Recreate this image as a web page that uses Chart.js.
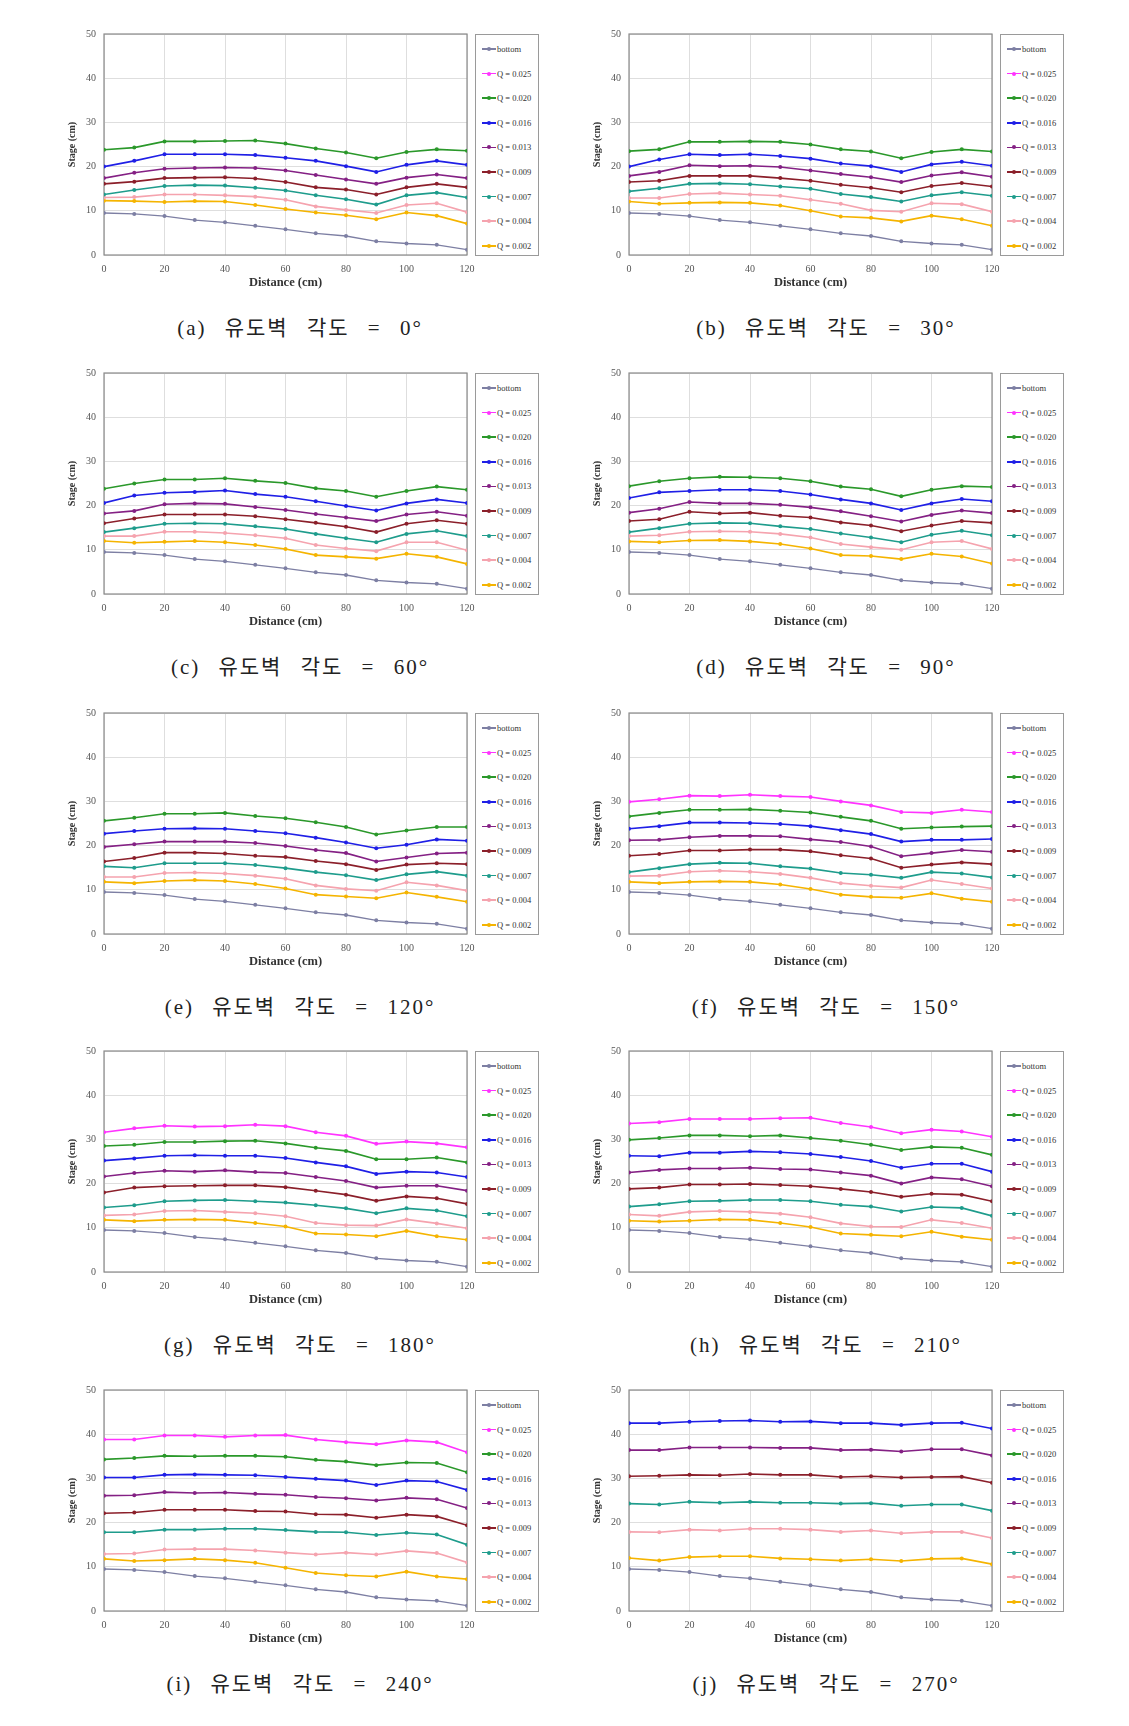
<!DOCTYPE html>
<html><head><meta charset="utf-8">
<script src="https://cdn.jsdelivr.net/npm/chart.js@4.4.1/dist/chart.umd.min.js"></script>
<style>
body{margin:0;background:#fff;width:1129px;height:1726px;position:relative;overflow:hidden}
canvas{position:absolute}
.legend{position:absolute;border:1px solid #9a9a9a;box-sizing:border-box;font-family:"Liberation Serif",serif;font-size:8.5px;color:#333;background:#fff}
.li{position:absolute;left:6px;height:10px;line-height:10px;white-space:nowrap}
.mk{position:absolute;left:0;top:4.3px;width:14px;height:1.5px}
.dot{position:absolute;left:5px;top:-1.3px;width:4px;height:4px;border-radius:50%}
.txt{position:absolute;left:15px;top:0}
.cap{position:absolute;font-family:"Liberation Serif","Noto Sans CJK KR",serif;font-size:21px;line-height:24px;white-space:pre;transform:translateX(-50%);color:#222;letter-spacing:2px;word-spacing:11px}
</style>
</head><body>
<script>
// ---------- data ----------
const distance = [0,10,20,30,40,50,60,70,80,90,100,110,120];
const seriesNames = ['bottom','Q = 0.025','Q = 0.020','Q = 0.016','Q = 0.013','Q = 0.009','Q = 0.007','Q = 0.004','Q = 0.002'];
const panelLetters = ['a','b','c','d','e','f','g','h','i','j'];
const panelAngles = ['0','30','60','90','120','150','180','210','240','270'];
const xTickStep = 20, yTickStep = 10, xMax = 120, yMax = 50;

const bottom = [9.5,9.3,8.8,7.9,7.4,6.6,5.8,4.9,4.3,3.1,2.6,2.3,1.2];

// (a) 0 deg
const q020_a = [23.8,24.3,25.7,25.7,25.8,25.9,25.2,24.1,23.2,21.9,23.3,23.9,23.6];
const q016_a = [20.0,21.3,22.8,22.8,22.8,22.6,22.0,21.3,20.1,18.8,20.4,21.3,20.4];
const q013_a = [17.4,18.6,19.5,19.7,19.8,19.7,19.1,18.1,17.1,16.1,17.5,18.2,17.4];
const q009_a = [16.1,16.6,17.4,17.5,17.6,17.3,16.5,15.3,14.8,13.7,15.3,16.1,15.3];
const q007_a = [13.7,14.7,15.6,15.8,15.7,15.2,14.6,13.5,12.6,11.4,13.5,14.1,13.0];
const q004_a = [13.0,13.1,13.7,13.7,13.5,13.2,12.5,11.0,10.2,9.5,11.3,11.7,9.7];
const q002_a = [12.3,12.2,12.0,12.2,12.1,11.3,10.4,9.6,9.0,8.1,9.6,8.9,7.1];
// (b) 30 deg
const q020_b = [23.5,23.9,25.6,25.6,25.7,25.6,25.0,23.9,23.4,21.9,23.3,23.9,23.4];
const q016_b = [20.0,21.6,22.8,22.6,22.8,22.4,21.8,20.7,20.1,18.8,20.5,21.1,20.2];
const q013_b = [17.9,18.8,20.3,20.1,20.2,19.9,19.1,18.3,17.6,16.5,18.0,18.7,17.7];
const q009_b = [16.5,16.8,17.9,17.9,17.9,17.4,16.8,15.9,15.2,14.2,15.6,16.3,15.5];
const q007_b = [14.4,15.1,16.1,16.2,16.0,15.5,15.0,13.8,13.1,12.1,13.5,14.2,13.4];
const q004_b = [12.9,12.9,13.8,14.0,13.7,13.4,12.5,11.6,10.1,9.8,11.7,11.5,9.8];
const q002_b = [12.1,11.6,11.8,11.9,11.8,11.2,10.0,8.7,8.4,7.6,8.9,8.1,6.6];
// (c) 60 deg
const q020_c = [23.8,25.0,25.9,25.9,26.2,25.6,25.1,23.9,23.3,22.0,23.3,24.3,23.6];
const q016_c = [20.6,22.3,22.9,23.1,23.4,22.6,22.0,21.0,19.9,18.9,20.5,21.4,20.6];
const q013_c = [18.2,18.8,20.3,20.5,20.4,19.7,19.0,18.1,17.3,16.5,18.0,18.6,17.7];
const q009_c = [16.0,17.1,18.0,18.0,18.0,17.6,16.9,16.1,15.2,14.0,15.9,16.7,15.9];
const q007_c = [14.0,14.9,15.9,16.0,15.9,15.3,14.7,13.6,12.6,11.7,13.6,14.3,13.1];
const q004_c = [13.1,13.1,14.1,14.1,13.8,13.3,12.6,11.1,10.3,9.7,11.7,11.7,9.9];
const q002_c = [12.0,11.6,11.8,12.0,11.7,11.1,10.2,8.8,8.4,8.0,9.1,8.4,6.8];
// (d) 90 deg
const q020_d = [24.4,25.5,26.2,26.5,26.4,26.2,25.5,24.3,23.7,22.1,23.6,24.4,24.2];
const q016_d = [21.7,23.0,23.3,23.6,23.6,23.3,22.5,21.4,20.5,19.0,20.5,21.5,21.0];
const q013_d = [18.4,19.3,20.8,20.5,20.5,20.2,19.6,18.7,17.6,16.4,17.9,18.9,18.3];
const q009_d = [16.5,16.9,18.6,18.2,18.4,17.7,17.3,16.2,15.5,14.2,15.5,16.5,16.1];
const q007_d = [14.0,14.9,15.9,16.1,16.0,15.3,14.7,13.7,12.8,11.7,13.4,14.3,13.3];
const q004_d = [13.1,13.3,14.1,14.2,14.1,13.6,12.8,11.3,10.6,10.0,11.7,12.0,10.2];
const q002_d = [11.9,11.7,12.1,12.2,11.9,11.3,10.3,8.8,8.6,7.9,9.1,8.5,6.9];
// (e) 120 deg
const q020_e = [25.6,26.3,27.2,27.2,27.4,26.7,26.2,25.3,24.2,22.5,23.4,24.2,24.2];
const q016_e = [22.7,23.3,23.8,23.9,23.8,23.3,22.8,21.8,20.7,19.4,20.2,21.4,21.1];
const q013_e = [19.7,20.3,20.9,20.9,20.9,20.6,19.9,19.0,18.3,16.4,17.3,18.2,18.4];
const q009_e = [16.4,17.2,18.4,18.4,18.2,17.7,17.4,16.5,15.8,14.5,15.7,16.0,15.8];
const q007_e = [15.3,15.0,16.0,16.0,16.0,15.6,14.9,14.0,13.3,12.2,13.5,14.1,13.2];
const q004_e = [12.9,12.9,13.8,13.9,13.7,13.2,12.5,11.0,10.2,9.8,11.7,11.0,9.8];
const q002_e = [11.8,11.5,12.0,12.2,12.0,11.3,10.3,8.9,8.5,8.1,9.4,8.4,7.3];
// (f) 150 deg
const q025_f = [29.9,30.5,31.3,31.2,31.5,31.2,31.0,30.0,29.1,27.6,27.4,28.1,27.6];
const q020_f = [26.6,27.4,28.1,28.1,28.2,27.9,27.5,26.5,25.6,23.8,24.1,24.3,24.4];
const q016_f = [23.8,24.4,25.2,25.2,25.1,24.9,24.4,23.5,22.6,20.9,21.3,21.3,21.5];
const q013_f = [21.2,21.3,21.9,22.2,22.2,22.1,21.4,20.8,19.8,17.6,18.3,19.0,18.6];
const q009_f = [17.7,18.1,18.9,18.9,19.1,19.1,18.7,17.8,17.1,15.0,15.7,16.2,15.8];
const q007_f = [14.0,14.9,15.8,16.1,16.0,15.3,14.8,13.8,13.4,12.7,14.0,13.7,12.8];
const q004_f = [13.1,13.2,14.1,14.3,14.1,13.6,12.7,11.5,10.9,10.5,12.2,11.3,10.3];
const q002_f = [11.8,11.5,11.8,11.9,11.8,11.2,10.2,8.9,8.4,8.2,9.2,8.0,7.3];
// (g) 180 deg
const q025_g = [31.6,32.5,33.1,32.9,33.0,33.3,33.0,31.6,30.8,29.0,29.5,29.1,28.2];
const q020_g = [28.5,28.8,29.4,29.4,29.6,29.7,29.1,28.1,27.4,25.5,25.5,25.9,24.8];
const q016_g = [25.2,25.7,26.3,26.4,26.3,26.3,25.8,24.8,23.9,22.2,22.7,22.5,21.5];
const q013_g = [21.6,22.4,22.9,22.7,23.0,22.6,22.4,21.5,20.6,19.1,19.5,19.5,18.4];
const q009_g = [18.0,19.1,19.4,19.5,19.6,19.6,19.2,18.4,17.5,16.1,17.1,16.7,15.4];
const q007_g = [14.6,15.1,16.0,16.2,16.3,16.0,15.7,15.1,14.4,13.3,14.4,13.9,12.6];
const q004_g = [12.8,13.0,13.8,13.9,13.6,13.3,12.6,11.1,10.6,10.5,11.9,11.0,9.9];
const q002_g = [11.8,11.5,11.8,11.9,11.8,11.1,10.3,8.7,8.5,8.1,9.3,8.1,7.3];
// (h) 210 deg
const q025_h = [33.6,33.9,34.6,34.6,34.6,34.8,34.9,33.7,32.8,31.4,32.2,31.8,30.6];
const q020_h = [29.9,30.3,30.9,30.9,30.7,30.9,30.3,29.7,28.8,27.6,28.3,28.1,26.5];
const q016_h = [26.3,26.2,27.0,27.0,27.3,27.1,26.7,26.0,25.1,23.6,24.5,24.5,22.7];
const q013_h = [22.5,23.1,23.4,23.4,23.6,23.3,23.2,22.5,21.8,20.0,21.4,21.0,19.4];
const q009_h = [18.8,19.1,19.8,19.8,19.9,19.7,19.4,18.8,18.1,17.0,17.7,17.5,16.0];
const q007_h = [14.8,15.3,16.0,16.1,16.3,16.3,16.0,15.2,14.8,13.7,14.7,14.5,12.7];
const q004_h = [13.0,12.7,13.6,13.8,13.6,13.2,12.4,11.0,10.3,10.2,11.8,11.1,9.9];
const q002_h = [11.6,11.4,11.6,11.9,11.8,11.1,10.2,8.7,8.4,8.1,9.1,8.0,7.3];
// (i) 240 deg
const q025_i = [38.8,38.8,39.7,39.7,39.4,39.7,39.8,38.8,38.2,37.7,38.6,38.2,35.9];
const q020_i = [34.3,34.6,35.1,35.0,35.1,35.1,34.9,34.2,33.8,33.0,33.6,33.5,31.4];
const q016_i = [30.2,30.2,30.8,30.9,30.8,30.7,30.3,29.9,29.5,28.5,29.5,29.3,27.4];
const q013_i = [26.1,26.2,26.9,26.7,26.8,26.5,26.3,25.8,25.5,25.0,25.6,25.3,23.3];
const q009_i = [22.1,22.3,22.9,22.9,22.9,22.6,22.5,21.9,21.8,21.1,21.8,21.4,19.4];
const q007_i = [17.8,17.8,18.4,18.4,18.6,18.6,18.3,17.9,17.8,17.2,17.7,17.3,15.0];
const q004_i = [12.9,13.0,13.9,14.0,14.0,13.7,13.2,12.8,13.2,12.8,13.6,13.1,11.0];
const q002_i = [11.8,11.3,11.5,11.8,11.5,10.9,9.8,8.6,8.1,7.8,8.9,7.8,7.2];
// (j) 270 deg
const q016_j = [42.5,42.5,42.8,43.0,43.1,42.8,42.9,42.5,42.5,42.1,42.5,42.6,41.3];
const q013_j = [36.4,36.4,37.0,37.0,37.0,36.9,36.9,36.4,36.5,36.1,36.6,36.6,35.2];
const q009_j = [30.5,30.6,30.8,30.7,31.0,30.8,30.8,30.3,30.5,30.2,30.3,30.4,29.0];
const q007_j = [24.3,24.1,24.7,24.5,24.7,24.5,24.5,24.3,24.4,23.8,24.1,24.1,22.7];
const q004_j = [17.9,17.8,18.4,18.2,18.6,18.6,18.4,17.9,18.2,17.6,17.9,17.9,16.5];
const q002_j = [12.0,11.4,12.2,12.4,12.4,11.9,11.7,11.4,11.7,11.3,11.8,11.9,10.6];

const panelSeries = [
  [bottom, null,   q020_a, q016_a, q013_a, q009_a, q007_a, q004_a, q002_a],
  [bottom, null,   q020_b, q016_b, q013_b, q009_b, q007_b, q004_b, q002_b],
  [bottom, null,   q020_c, q016_c, q013_c, q009_c, q007_c, q004_c, q002_c],
  [bottom, null,   q020_d, q016_d, q013_d, q009_d, q007_d, q004_d, q002_d],
  [bottom, null,   q020_e, q016_e, q013_e, q009_e, q007_e, q004_e, q002_e],
  [bottom, q025_f, q020_f, q016_f, q013_f, q009_f, q007_f, q004_f, q002_f],
  [bottom, q025_g, q020_g, q016_g, q013_g, q009_g, q007_g, q004_g, q002_g],
  [bottom, q025_h, q020_h, q016_h, q013_h, q009_h, q007_h, q004_h, q002_h],
  [bottom, q025_i, q020_i, q016_i, q013_i, q009_i, q007_i, q004_i, q002_i],
  [bottom, null,   null,   q016_j, q013_j, q009_j, q007_j, q004_j, q002_j]
];

// ---------- styles / layout ----------
const seriesColors = ['#7d7fa3','#ff33ff','#2a982a','#1f1fe6','#842084','#8b1f2a','#1e9c8c','#f5a3ae','#f5b400'];
const colPlotLeft = [104, 629];
const rowPlotTop = [34, 373, 713, 1051, 1390];
const plotW = 363, plotH = 221;
const padTop = 18, padRight = 20, yAxisW = 50, xAxisH = 37;
const capCenterX = [300, 826];
const capTop = [316, 655, 995, 1333, 1672];
const serif = '"Liberation Serif", "Times New Roman", serif';

const framePlugin = {
  id:'frame',
  beforeDatasetsDraw(chart){
    const {ctx, chartArea:{left,top,right,bottom}} = chart;
    ctx.save(); ctx.strokeStyle='#8a8a8a'; ctx.lineWidth=1.2;
    ctx.strokeRect(left,top,right-left,bottom-top); ctx.restore();
  }
};

panelSeries.forEach((vals, p) => {
  const col = p % 2, row = Math.floor(p / 2);
  const pl = colPlotLeft[col], pt = rowPlotTop[row];
  const cv = document.createElement('canvas');
  const cw = yAxisW + plotW + padRight, ch = padTop + plotH + xAxisH;
  cv.width = cw; cv.height = ch;
  cv.style.left = (pl - yAxisW) + 'px'; cv.style.top = (pt - padTop) + 'px';
  cv.style.width = cw + 'px'; cv.style.height = ch + 'px';
  document.body.appendChild(cv);

  const datasets = vals.map((v, s) => ({
    label: seriesNames[s],
    data: v ? distance.map((x, i) => ({x, y: v[i]})) : [],
    borderColor: seriesColors[s], backgroundColor: seriesColors[s],
    borderWidth: s === 0 ? 1.3 : 1.6, pointRadius: 2, pointBorderWidth: 0,
    pointHoverRadius: 2, tension: 0
  }));

  new Chart(cv, {
    type: 'line',
    data: { datasets },
    options: {
      responsive: false, animation: false, devicePixelRatio: 1,
      layout: { padding: { top: padTop, right: padRight, left: 0, bottom: 0 } },
      plugins: { legend: { display: false }, tooltip: { enabled: false } },
      scales: {
        x: {
          type: 'linear', min: 0, max: xMax,
          ticks: { stepSize: xTickStep, padding: 8, color: '#555', font: { family: serif, size: 10 } },
          grid: { color: '#dedede', drawTicks: false, lineWidth: 1 },
          border: { display: false },
          title: { display: true, text: 'Distance (cm)', color: '#333', font: { family: serif, size: 12.5, weight: 'bold' }, padding: { top: 0, bottom: 2 } },
          afterFit(s) { s.height = xAxisH; }
        },
        y: {
          type: 'linear', min: 0, max: yMax,
          ticks: { stepSize: yTickStep, padding: 8, color: '#555', font: { family: serif, size: 10 } },
          grid: { color: '#dedede', drawTicks: false, lineWidth: 1 },
          border: { display: false },
          title: { display: true, text: 'Stage (cm)', color: '#333', font: { family: serif, size: 10, weight: 'bold' }, padding: { top: 12, bottom: 0 } },
          afterFit(s) { s.width = yAxisW; }
        }
      }
    },
    plugins: [framePlugin]
  });

  // legend
  const lg = document.createElement('div');
  lg.className = 'legend';
  lg.style.left = (pl + plotW + 8) + 'px'; lg.style.top = pt + 'px';
  lg.style.width = '64px'; lg.style.height = plotH + 1 + 'px';
  seriesNames.forEach((name, s) => {
    const it = document.createElement('div');
    it.className = 'li';
    it.style.top = (14 + s * 24.6 - 5) + 'px';
    it.innerHTML = '<div class="mk" style="background:' + seriesColors[s] + '"><div class="dot" style="background:' + seriesColors[s] + '"></div></div><span class="txt">' + name + '</span>';
    lg.appendChild(it);
  });
  document.body.appendChild(lg);

  // caption
  const cap = document.createElement('div');
  cap.className = 'cap';
  cap.style.left = capCenterX[col] + 'px'; cap.style.top = capTop[row] + 'px';
  cap.textContent = '(' + panelLetters[p] + ') 유도벽 각도 = ' + panelAngles[p] + '°';
  document.body.appendChild(cap);
});
</script>
</body></html>
